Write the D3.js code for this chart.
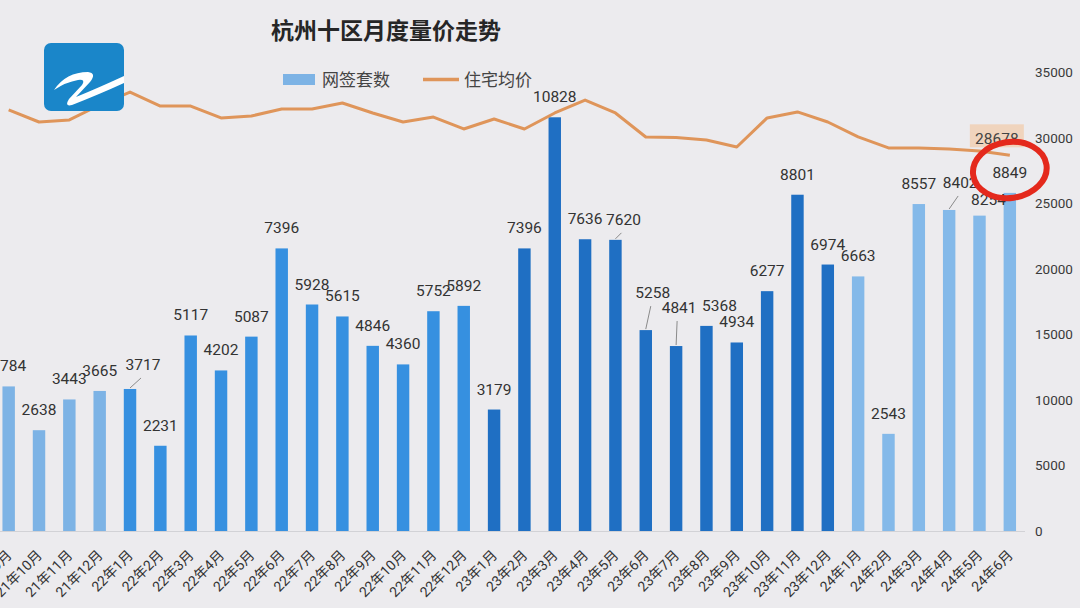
<!DOCTYPE html>
<html>
<head>
<meta charset="utf-8">
<script src="https://cdn.jsdelivr.net/npm/d3@7"></script>
<style>
  html, body { margin: 0; padding: 0; background: #ecebee; }
  svg { display: block; }
  text { font-family: Roboto, "Noto Sans CJK SC", sans-serif; }
</style>
</head>
<body>
<svg id="chart" width="1080" height="608"></svg>
<script>
// ---- data ----
const categories = [
  "21年9月","21年10月","21年11月","21年12月",
  "22年1月","22年2月","22年3月","22年4月","22年5月","22年6月",
  "22年7月","22年8月","22年9月","22年10月","22年11月","22年12月",
  "23年1月","23年2月","23年3月","23年4月","23年5月","23年6月",
  "23年7月","23年8月","23年9月","23年10月","23年11月","23年12月",
  "24年1月","24年2月","24年3月","24年4月","24年5月","24年6月"
];
const salesCount = [
  3784, 2638, 3443, 3665,
  3717, 2231, 5117, 4202, 5087, 7396,
  5928, 5615, 4846, 4360, 5752, 5892,
  3179, 7396, 10828, 7636, 7620, 5258,
  4841, 5368, 4934, 6277, 8801, 6974,
  6663, 2543, 8557, 8402, 8254, 8849
];
const avgPrice = [
  32140, 31220, 31380, 32520,
  33510, 32440, 32440, 31530, 31680, 32210,
  32210, 32670, 31910, 31220, 31600, 30690,
  31450, 30690, 31910, 32900, 31910, 30080,
  30040, 29850, 29310, 31530, 31990, 31220,
  30080, 29240, 29240, 29160, 29010, 28678
];
const rightTicks = [0, 5000, 10000, 15000, 20000, 25000, 30000, 35000];
const seriesNames = ["网签套数", "住宅均价"];
const title = "杭州十区月度量价走势";

// label nudges for crowded data labels: [dx, dy, leader line]
const labelNudge = {
  "22年1月": [13, -4, true],
  "23年5月": [8, 0, true],
  "23年6月": [7, -17, true],
  "23年7月": [3, -18, true],
  "23年8月": [13, 0, false],
  "24年4月": [11, -7, true],
  "24年5月": [9, 4, false]
};

// ---- drawing ----
const svg = d3.select("#chart");
const yearColor = { "21": "#7db3e5", "22": "#3690e0", "23": "#1f6fc3", "24": "#84b9e9" };

const x = d3.scaleBand().domain(categories).range([-6.5, 1025]).paddingInner(0.59).paddingOuter(0.295);
const yLeft = d3.scaleLinear().domain([0, 12000]).range([531, 72.5]);
const yRight = d3.scaleLinear().domain([0, 35000]).range([531, 72.5]);
const cx = c => x(c) + x.bandwidth() / 2;

// baseline
svg.append("line").attr("x1", 0).attr("x2", 1025).attr("y1", yLeft(0) + 0.5).attr("y2", yLeft(0) + 0.5)
  .attr("stroke", "#d2d2d6").attr("stroke-width", 1);

// right axis
const axisR = svg.append("g").attr("transform", "translate(1025,0)")
  .call(d3.axisRight(yRight).tickValues(rightTicks).tickSize(0).tickPadding(10).tickFormat(d3.format("d")));
axisR.select(".domain").remove();
axisR.selectAll("text").attr("font-size", "13.5px").attr("fill", "#3a3a3a")
  .attr("font-family", "Roboto, sans-serif");

// bars
svg.append("g").selectAll("rect").data(categories).join("rect")
  .attr("x", d => x(d))
  .attr("width", x.bandwidth())
  .attr("y", (d, i) => yLeft(salesCount[i]))
  .attr("height", (d, i) => yLeft(0) - yLeft(salesCount[i]))
  .attr("fill", d => yearColor[d.slice(0, 2)]);

// x labels
svg.append("g").selectAll("text").data(categories).join("text")
  .attr("transform", d => `translate(${cx(d) + 4},556) rotate(-45)`)
  .attr("text-anchor", "end")
  .attr("font-size", "14px")
  .attr("fill", "#333")
  .attr("font-family", "'Noto Sans CJK SC', sans-serif")
  .text(d => d);

// leader lines
const lbl = svg.append("g");
categories.forEach((c, i) => {
  const n = labelNudge[c] || [0, 0, false];
  const top = yLeft(salesCount[i]);
  const lx = cx(c) + n[0];
  const ly = top - 15 + n[1];
  if (n[2]) {
    lbl.append("line").attr("x1", cx(c)).attr("y1", top - 1)
      .attr("x2", lx - 2).attr("y2", ly + 8)
      .attr("stroke", "#8a8a8a").attr("stroke-width", 1);
  }
  lbl.append("text").attr("x", lx).attr("y", ly)
    .attr("text-anchor", "middle").attr("font-size", "15.5px").attr("fill", "#333")
    .text(salesCount[i]);
});

// price line
const line = d3.line().x((d, i) => cx(categories[i])).y(d => yRight(d));
svg.append("path").datum(avgPrice).attr("d", line)
  .attr("fill", "none").attr("stroke", "#df955a").attr("stroke-width", 3)
  .attr("stroke-linejoin", "round");

// last price label with highlight box
const lastI = avgPrice.length - 1;
const px = cx(categories[lastI]) - 13, py = yRight(avgPrice[lastI]) - 11;
svg.append("rect").attr("x", px - 27).attr("y", py - 20).attr("width", 54).attr("height", 23)
  .attr("fill", "#f0d4bd");
svg.append("text").attr("x", px).attr("y", py).attr("text-anchor", "middle")
  .attr("font-size", "15.5px").attr("fill", "#444").text(avgPrice[lastI]);

// red circle annotation
svg.append("ellipse").attr("cx", cx(categories[lastI])).attr("cy", 170).attr("rx", 37).attr("ry", 28)
  .attr("transform", `rotate(-8 ${cx(categories[lastI])} 170)`)
  .attr("fill", "none").attr("stroke", "#e4291c").attr("stroke-width", 6);

// title
svg.append("text").attr("x", 386).attr("y", 39).attr("text-anchor", "middle")
  .attr("font-size", "23px").attr("font-weight", "bold").attr("fill", "#262626")
  .attr("font-family", "'Noto Sans CJK SC', sans-serif").text(title);

// legend
const lg = svg.append("g").attr("font-family", "'Noto Sans CJK SC', sans-serif");
lg.append("rect").attr("x", 283).attr("y", 74).attr("width", 32).attr("height", 11).attr("fill", "#7db3e5");
lg.append("text").attr("x", 322).attr("y", 86).attr("font-size", "17px").attr("fill", "#444").text(seriesNames[0]);
lg.append("line").attr("x1", 423).attr("x2", 459).attr("y1", 79.5).attr("y2", 79.5)
  .attr("stroke", "#df955a").attr("stroke-width", 3.5);
lg.append("text").attr("x", 464).attr("y", 86).attr("font-size", "17px").attr("fill", "#444").text(seriesNames[1]);

// channel logo
const logo = svg.append("g");
logo.append("rect").attr("x", 44).attr("y", 43).attr("width", 80).attr("height", 68).attr("rx", 7)
  .attr("fill", "#1a86c9");
logo.append("path")
  .attr("d", "M54,90 Q66,72 88,72 Q97,73 90,82 L76,97 Q98,88 124,76 L124,83 Q100,94 72,105 Q64,107 69,99 L82,85 Q86,79 78,80 Q66,82 54,90 Z")
  .attr("fill", "#ffffff");
</script>
</body>
</html>
